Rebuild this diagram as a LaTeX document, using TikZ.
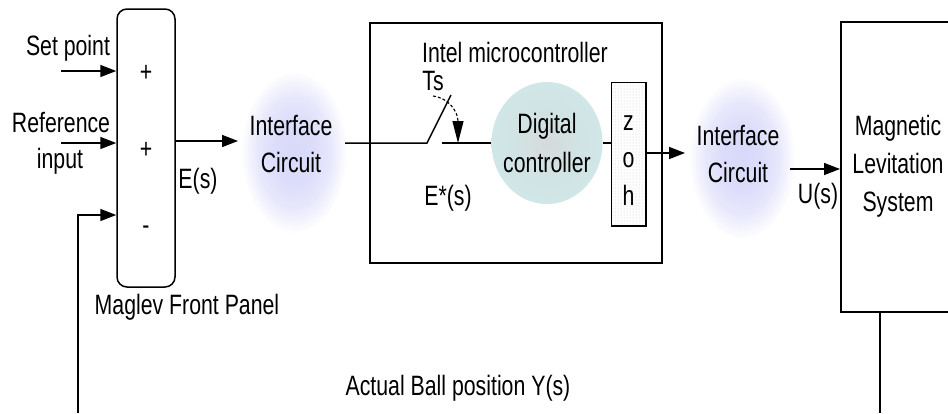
\documentclass[tikz,border=0pt]{standalone}
\usepackage{fontspec}
\setmainfont{Liberation Sans}[FakeStretch=0.76]
\usetikzlibrary{arrows.meta,shapes.geometric,patterns}
\definecolor{lav}{RGB}{216,216,250}
\definecolor{dcin}{RGB}{214,218,218}
\definecolor{dcout}{RGB}{208,230,231}
\pgfdeclareradialshading{glowshade}{\pgfpoint{0bp}{0bp}}{color(0bp)=(lav); color(9bp)=(lav!90!white); color(17bp)=(lav!62!white); color(22bp)=(lav!25!white); color(25bp)=(white); color(50bp)=(white)}
\pgfdeclareradialshading{dcshade}{\pgfpoint{0bp}{0bp}}{color(0bp)=(dcin); color(15bp)=(dcout!80!dcin); color(25bp)=(dcout); color(50bp)=(dcout)}
\begin{document}
\begin{tikzpicture}[x=1pt,y=-1pt,
  txt/.style={font=\fontsize{28}{37}\selectfont, inner sep=0pt, anchor=base},
  line/.style={line width=1.5pt},
  arr/.style={line width=1.5pt, -{Triangle[length=16pt,width=12pt]}},
  box/.style={draw, line width=1.5pt, inner sep=0pt},
  glow/.style={ellipse, minimum width=106pt, minimum height=162pt, inner sep=0pt, shade, shading=glowshade}]
\useasboundingbox (0,0) rectangle (948,413);
\clip (0,0) rectangle (948,413);
% glows
\node[glow] (ic1) at (294,152) {};
\node[glow] (ic2) at (742,158) {};
% front panel
\node[box, rounded corners=10pt, minimum width=58pt, minimum height=278pt] (fp) at (146,148) {};
\node[txt] (s1) at (146,81) {+};
\node[txt] (s2) at (146,158) {+};
\node[txt] (s3) at (146,234) {-};
\node[txt] (lsp) at (68,55) {Set point};
\node[txt] (lri1) at (61,132) {Reference};
\node[txt] (lri2) at (60,168) {input};
\coordinate (sp) at (61,71);
\coordinate (ri) at (61,143);
\coordinate (fb0) at (78,413);
\coordinate (fb1) at (78,215);
\draw[arr] (sp) -- (sp -| fp.west);
\draw[arr] (ri) -- (ri -| fp.west);
\draw[arr] (fb0) -- (fb1) -- (fb1 -| fp.west);
\node[txt] (lfp) at (187,314) {Maglev Front Panel};
% error
\coordinate (eo) at (238,141);
\draw[arr] (eo -| fp.east) -- (eo);
\node[txt] (les) at (198,188) {E(s)};
% interface 1
\node[txt] (ic1a) at (291,135) {Interface};
\node[txt] (ic1b) at (291,172) {Circuit};
% microcontroller
\node[box, minimum width=292pt, minimum height=240pt] (mc) at (516,143) {};
\node[txt] (lmc) at (515,62) {Intel microcontroller};
\node[ellipse, minimum width=111pt, minimum height=122pt, inner sep=0pt, shade, shading=dcshade] (dc) at (547,143) {};
\node[txt] (dca) at (547,133) {Digital};
\node[txt] (dcb) at (547,172) {controller};
\coordinate (ic1o) at (345,143);
\coordinate (sw0) at (427,143);
\coordinate (sw1) at (451,95);
\coordinate (sw2) at (442,143);
\draw[line] (ic1o) -- (sw0) -- (sw1);
\draw[line] (sw2) -- (dc.west);
\coordinate (ts0) at (433,96);
\coordinate (ts1) at (458,143);
\draw[line width=1.1pt, dash pattern=on 3pt off 2pt, -{Triangle[length=22pt,width=11pt]}] (ts0) .. controls (449,98) and (458,112) .. (ts1);
\node[txt] (lts) at (433,90) {Ts};
\node[txt] (lestar) at (448,205) {E*(s)};
% zoh
\node[box, draw=none, minimum width=33pt, minimum height=142pt, fill=white, pattern=dots, pattern color=gray!45] (zoh) at (628.5,154) {};
\draw[line width=1.5pt] (zoh.south west) rectangle (zoh.north east);
\node[txt] (zz) at (628.5,130) {z};
\node[txt] (zo2) at (628.5,167) {o};
\node[txt] (zh) at (628.5,205) {h};
\draw[line] (dc.east) -- (dc.east -| zoh.west);
\coordinate (zo) at (685,153);
\draw[arr] (zo -| zoh.east) -- (zo);
% interface 2
\node[txt] (ic2a) at (738,145) {Interface};
\node[txt] (ic2b) at (738,182) {Circuit};
% maglev system
\node[box, minimum width=120pt, minimum height=290pt, anchor=north west] (mls) at (840,21) {};
\node[txt] (ml1) at (898,135) {Magnetic};
\node[txt] (ml2) at (898,173) {Levitation};
\node[txt] (ml3) at (898,211) {System};
\coordinate (uo) at (790,169);
\draw[arr] (uo) -- (uo -| mls.west);
\node[txt] (lus) at (818,203) {U(s)};
\coordinate (yb) at (880,413);
\draw[line] (mls.south -| yb) -- (yb);
\node[txt] (lact) at (458,395) {Actual Ball position Y(s)};
\end{tikzpicture}
\end{document}
